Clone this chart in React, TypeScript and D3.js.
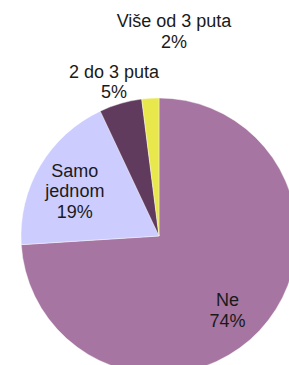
import React from "react";
import * as d3 from "d3";

const categories = ["Ne", "Samo jednom", "2 do 3 puta", "Više od 3 puta"];
const labelLines = [["Ne"], ["Samo", "jednom"], ["2 do 3 puta"], ["Više od 3 puta"]];
const values = [74, 19, 5, 2];
const colors = ["#A675A1", "#CCCCFF", "#603B5E", "#E8E84C"];

const W = 289;
const H = 365;
const cx = 159;
const cy = 236;
const R = 138;

export default function App() {
  const pie = d3.pie<number>().sort(null).value((d) => d)(values);
  const arc = d3.arc<d3.PieArcDatum<number>>().innerRadius(0).outerRadius(R);
  const labelArc = d3.arc<d3.PieArcDatum<number>>().innerRadius(R * 0.7).outerRadius(R * 0.7);
  // inside labels: centroid + small nudge; outside labels: anchors relative to center
  const nudge: Record<number, [number, number]> = { 0: [-2, 8], 1: [-1, 4] };
  const outside: Record<number, [number, number]> = { 2: [-45, -154.3], 3: [15, -204.8] };
  const fs = 18;
  const lh = 20.6;
  return (
    <div style={{ position: "fixed", left: 0, top: 0 }}>
      <svg width={W} height={H} style={{ display: "block", background: "#fff" }}>
        <g transform={`translate(${cx},${cy})`}>
          {pie.map((p, i) => (
            <path key={i} d={arc(p) || ""} fill={colors[i]} stroke="#fff" strokeWidth={0.4} />
          ))}
          {pie.map((p, i) => {
            const lines = [...labelLines[i], `${values[i]}%`];
            let x: number, y: number;
            if (outside[i]) {
              [x, y] = outside[i];
            } else {
              const c = labelArc.centroid(p);
              const n = nudge[i] ?? [0, 0];
              x = c[0] + n[0];
              y = c[1] + n[1];
            }
            const startY = y - ((lines.length - 1) * lh) / 2;
            return (
              <text
                key={i}
                textAnchor="middle"
                fontFamily="Liberation Sans, Arial, sans-serif"
                fontSize={fs}
                fill="#1a1a1a"
              >
                {lines.map((l, j) => (
                  <tspan key={j} x={x} y={startY + j * lh} dy="0.35em">
                    {l}
                  </tspan>
                ))}
              </text>
            );
          })}
        </g>
      </svg>
    </div>
  );
}
